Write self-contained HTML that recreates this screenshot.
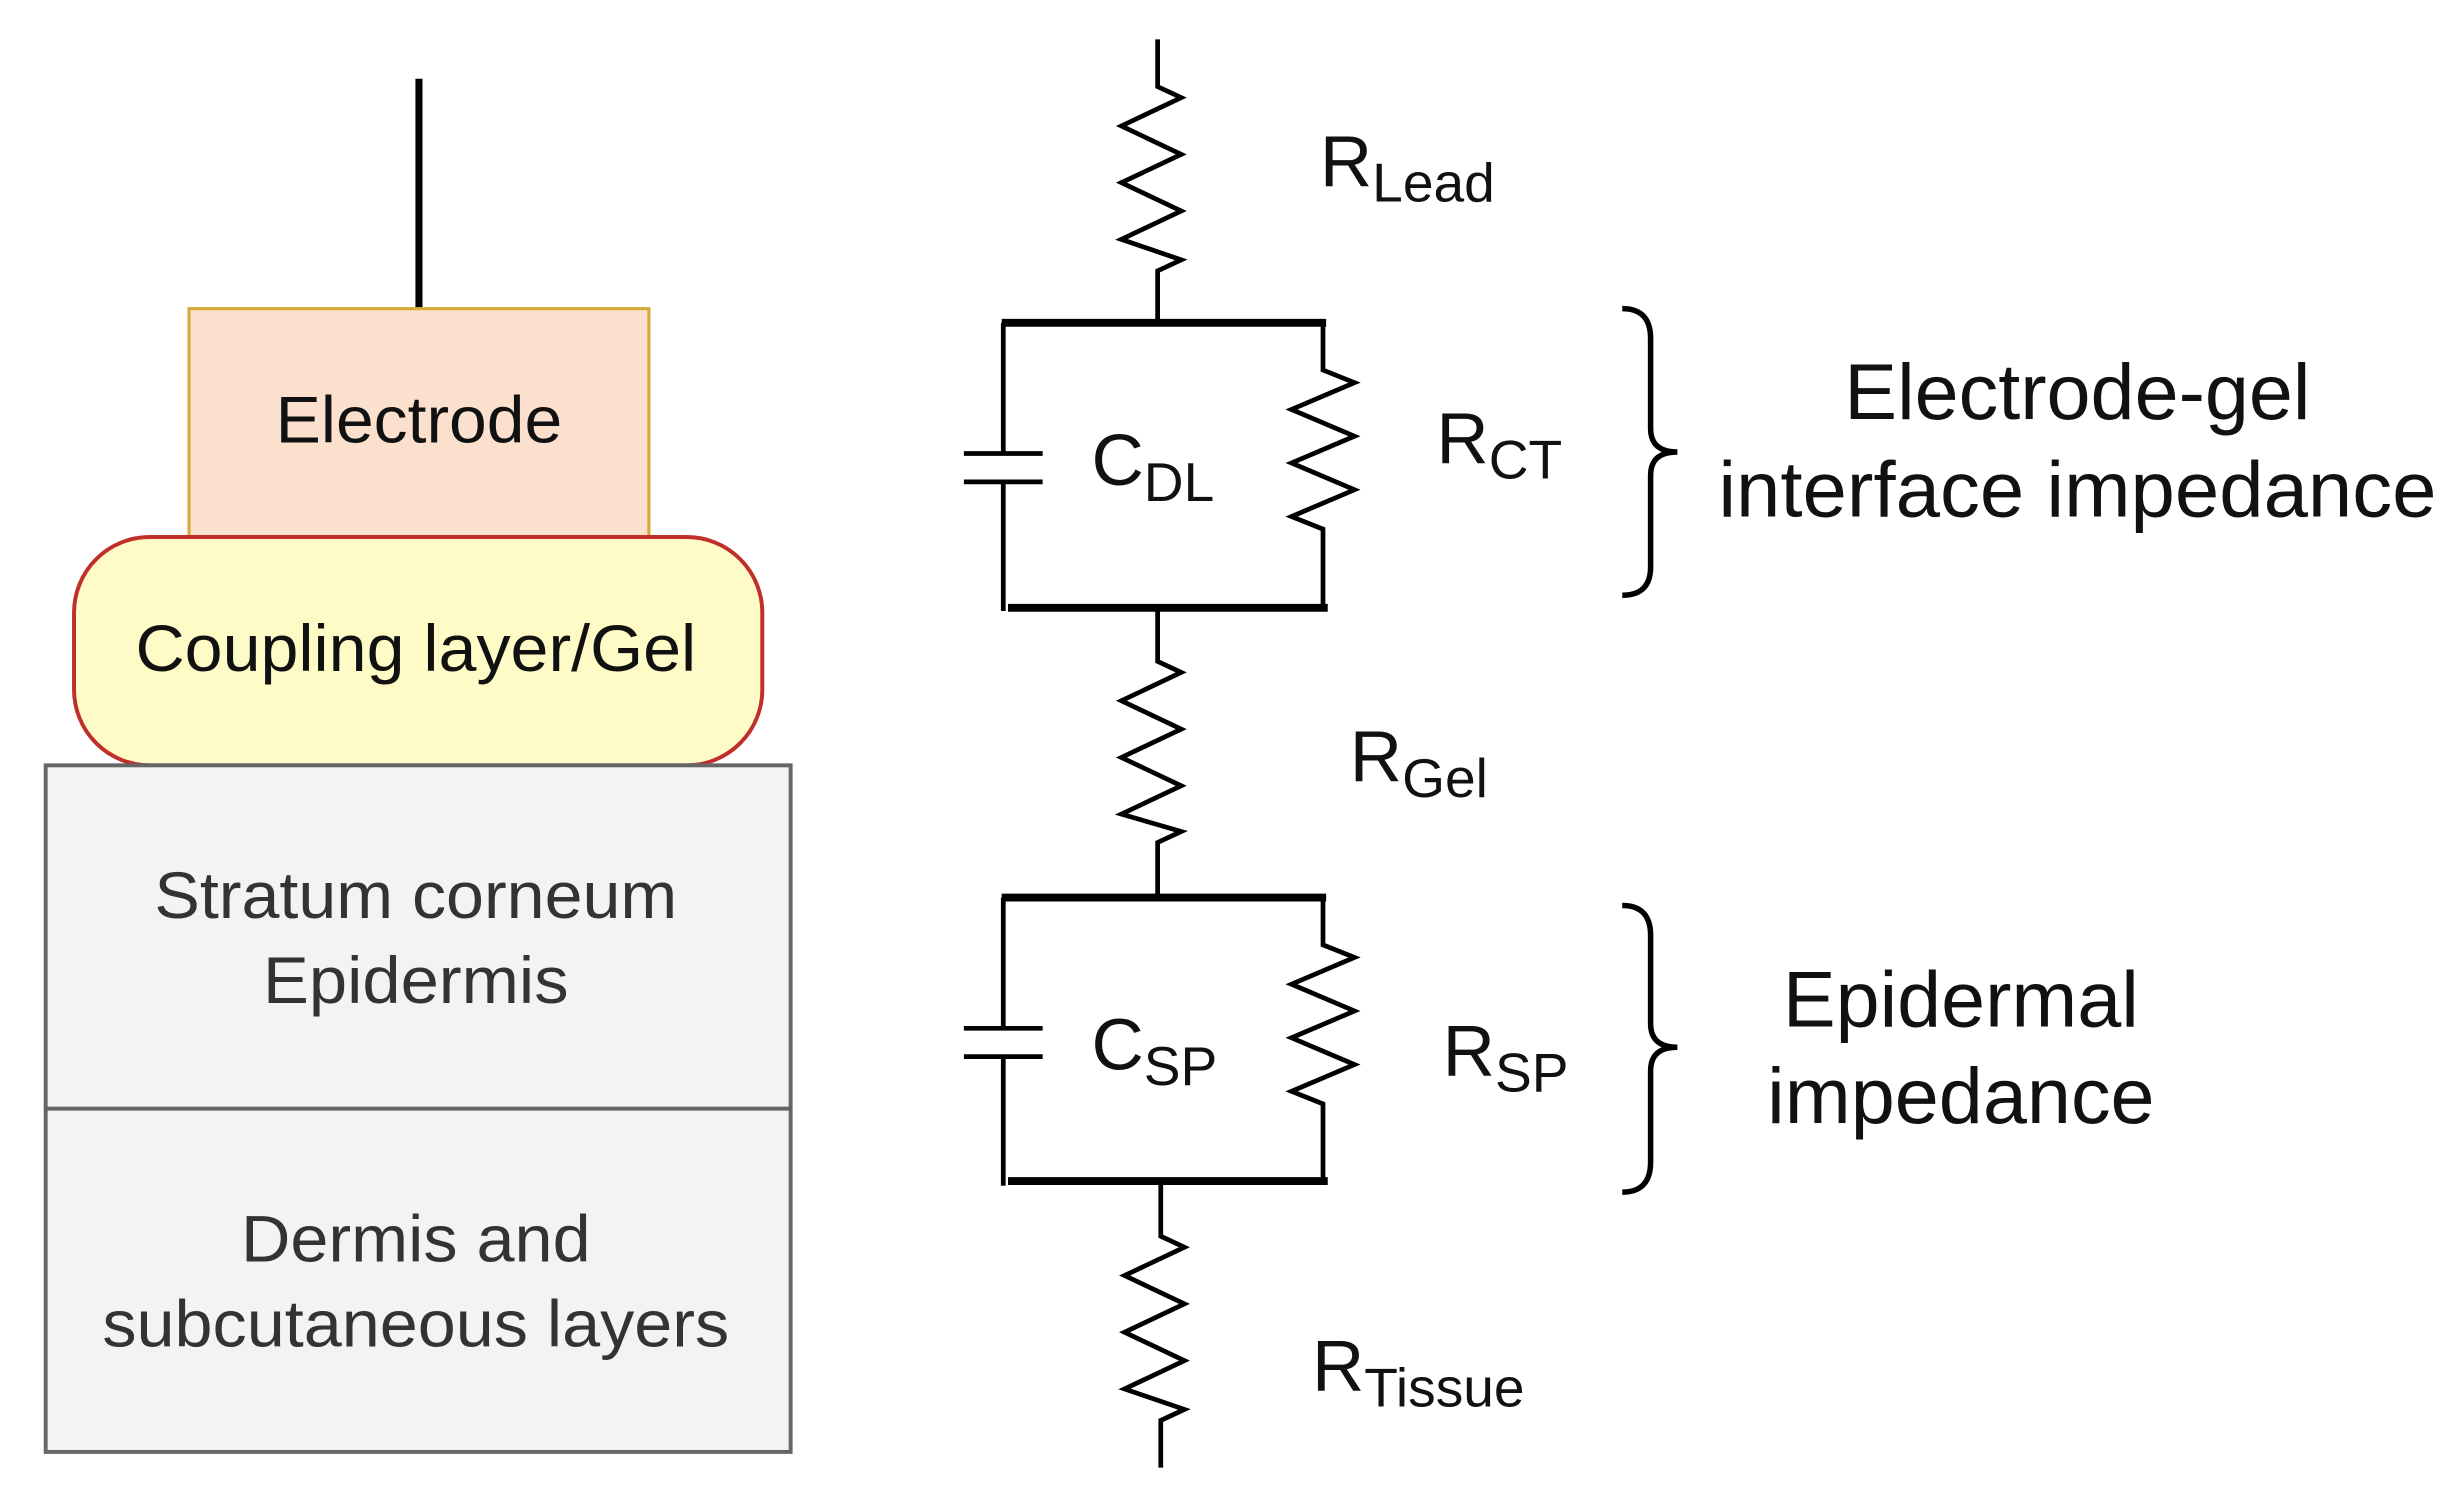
<!DOCTYPE html>
<html><head><meta charset="utf-8"><style>html,body{margin:0;padding:0;background:#fff}svg{display:block}</style></head>
<body>
<svg width="2457" height="1485" viewBox="0 0 1560 943" preserveAspectRatio="none" xmlns="http://www.w3.org/2000/svg" font-family="Liberation Sans, Arial, sans-serif">
<rect width="1560" height="943" fill="#fff"/>
<!-- left stack -->
<line x1="266" y1="50" x2="266" y2="196" stroke="#000" stroke-width="4.5"/>
<rect x="120" y="196" width="292" height="146" fill="#fbe1cd" stroke="#d6a93a" stroke-width="2"/>
<rect x="47" y="341" width="437" height="145" rx="48" ry="48" fill="#fffbc6" stroke="#c0302a" stroke-width="2.5"/>
<rect x="29" y="486" width="473" height="436" fill="#f2f3f5" stroke="#666" stroke-width="2.5"/>
<line x1="29" y1="704" x2="502" y2="704" stroke="#666" stroke-width="2.5"/>
<g lengthAdjust="spacingAndGlyphs">
<text x="266" y="281" font-size="42" text-anchor="middle" fill="#111" textLength="182" lengthAdjust="spacingAndGlyphs">Electrode</text>
<text x="264" y="426" font-size="42" text-anchor="middle" fill="#111" textLength="356" lengthAdjust="spacingAndGlyphs">Coupling layer/Gel</text>
<text x="264" y="583" font-size="42" text-anchor="middle" fill="#333" textLength="332" lengthAdjust="spacingAndGlyphs">Stratum corneum</text>
<text x="264" y="637" font-size="42" text-anchor="middle" fill="#333" textLength="194" lengthAdjust="spacingAndGlyphs">Epidermis</text>
<text x="264" y="801" font-size="42" text-anchor="middle" fill="#333" textLength="222" lengthAdjust="spacingAndGlyphs">Dermis and</text>
<text x="264" y="855" font-size="42" text-anchor="middle" fill="#333" textLength="398" lengthAdjust="spacingAndGlyphs">subcutaneous layers</text>
</g>
<!-- circuit -->
<g fill="none" stroke="#000" stroke-width="3" stroke-linejoin="miter">
<polyline points="735,25 735,55 750,62 712,80 750,98 712,116 750,134 712,152 750,165 735,172 735,205"/>
<polyline points="735,385 735,420 750,427 712,445 750,463 712,481 750,499 712,517 750,528 735,535 735,570"/>
<polyline points="737,750 737,785 752,792 714,810 752,828 714,846 752,864 714,882 752,895 737,902 737,932"/>
<polyline points="840,205 840,235 860,243 820,260 860,277 820,294 860,311 820,328 840,336 840,385"/>
<polyline points="840,570 840,600 860,608 820,625 860,642 820,659 860,676 820,693 840,701 840,750"/>
<line x1="637" y1="205" x2="637" y2="288"/><line x1="637" y1="306" x2="637" y2="388"/>
<line x1="612" y1="288" x2="662" y2="288"/><line x1="612" y1="306" x2="662" y2="306"/>
<line x1="637" y1="570" x2="637" y2="653"/><line x1="637" y1="671" x2="637" y2="753"/>
<line x1="612" y1="653" x2="662" y2="653"/><line x1="612" y1="671" x2="662" y2="671"/>
</g>
<g fill="none" stroke="#000" stroke-width="3.5">
<path d="M1030,196 Q1048,196 1048,215 L1048,272 Q1048,287 1065,287 Q1048,287 1048,302 L1048,360 Q1048,378 1030,378"/>
<path d="M1030,575 Q1048,575 1048,594 L1048,650 Q1048,665 1065,665 Q1048,665 1048,680 L1048,738 Q1048,757 1030,757"/>
</g>
<g stroke="#000" stroke-width="5">
<line x1="636" y1="205" x2="842" y2="205"/><line x1="640" y1="386" x2="843" y2="386"/>
<line x1="636" y1="570" x2="842" y2="570"/><line x1="640" y1="750" x2="843" y2="750"/>
</g>
<g fill="#111" font-size="46">
<text x="838" y="118">R<tspan font-size="35" dy="10">Lead</tspan></text>
<text x="693" y="308">C<tspan font-size="35" dy="10">DL</tspan></text>
<text x="912" y="294">R<tspan font-size="35" dy="10">CT</tspan></text>
<text x="857" y="496">R<tspan font-size="35" dy="10">Gel</tspan></text>
<text x="693" y="679">C<tspan font-size="35" dy="10">SP</tspan></text>
<text x="916" y="683">R<tspan font-size="35" dy="10">SP</tspan></text>
<text x="833" y="883">R<tspan font-size="35" dy="10">Tissue</tspan></text>
</g>
<g fill="#111" font-size="50" text-anchor="middle">
<text x="1319" y="266" textLength="296" lengthAdjust="spacingAndGlyphs">Electrode-gel</text>
<text x="1319" y="328" textLength="456" lengthAdjust="spacingAndGlyphs">interface impedance</text>
<text x="1245" y="652" textLength="226" lengthAdjust="spacingAndGlyphs">Epidermal</text>
<text x="1245" y="713" textLength="246" lengthAdjust="spacingAndGlyphs">impedance</text>
</g>
</svg>
</body></html>
